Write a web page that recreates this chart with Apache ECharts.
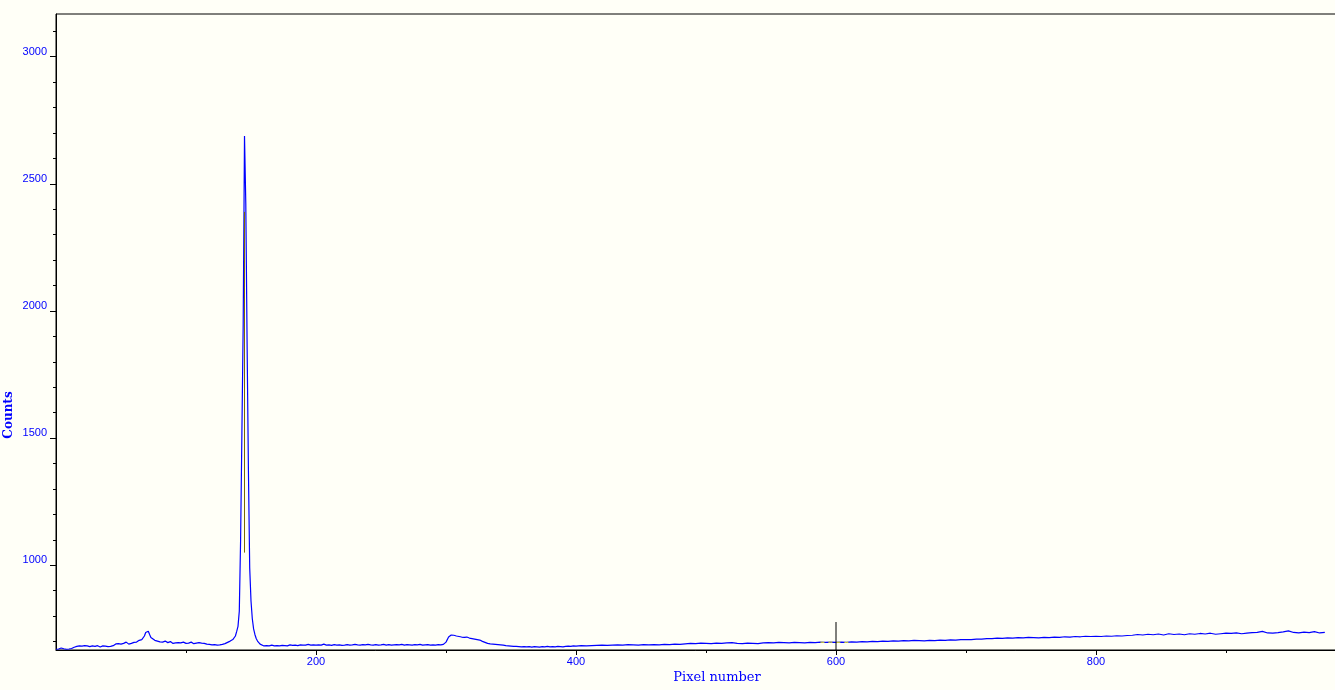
<!DOCTYPE html>
<html>
<head>
<meta charset="utf-8">
<script src="https://cdn.jsdelivr.net/npm/echarts@6/dist/echarts.min.js"></script>
<style>
html,body{margin:0;padding:0;background:#FFFFF7;}
#chart{width:1335px;height:690px;}
</style>
</head>
<body>
<div id="chart"></div>
<script>
// ---- data ----
const pixels = [0,2,4,6,8,10,12,14,16,18,20,22,24,26,28,30,32,34,36,38,40,42,44,46,48,50,52,54,56,58,60,62,64,66,67,68,69,70,71,72,73,74,76,78,80,82,84,86,88,90,92,94,96,98,100,102,104,106,108,110,112,114,116,118,120,122,124,126,128,130,132,134,136,137,138,139,140,141,142,143,144,145,146,147,148,149,150,151,152,153,154,155,156,157,158,160,162,164,166,168,170,172,174,176,178,180,182,184,186,188,190,192,194,196,198,200,202,204,206,208,210,212,214,216,218,220,222,224,226,228,230,232,234,236,238,240,242,244,246,248,250,252,254,256,258,260,262,264,266,268,270,272,274,276,278,280,282,284,286,288,290,292,294,296,298,299,300,301,302,303,304,305,306,307,308,309,310,311,312,313,314,316,318,320,322,324,326,328,330,332,334,336,338,340,342,344,346,348,350,352,354,356,358,360,362,364,366,368,370,372,374,376,378,380,382,384,386,388,390,392,394,396,398,400,404,408,412,416,420,424,428,432,436,440,444,448,452,456,460,464,468,472,476,480,484,488,492,496,500,504,508,512,516,520,524,528,532,536,540,544,548,552,556,560,564,568,572,576,580,584,588,592,596,600,604,608,612,616,620,624,628,632,636,640,644,648,652,656,660,664,668,672,676,680,684,688,692,696,700,704,708,712,716,720,724,728,732,736,740,744,748,752,756,760,764,768,772,776,780,784,788,792,796,800,804,808,812,816,820,824,828,832,836,840,844,848,852,856,860,864,868,872,876,880,884,888,892,896,900,904,908,912,916,920,924,928,932,936,940,944,948,952,956,960,964,968,972,976,980,984];
const counts = [670,671,675,672,670,671,673,678,681,683,682,684,683,680,683,681,684,679,683,682,680,681,684,691,692,690,693,698,690,693,697,698,705,708,714,722,736,742,741,728,716,712,705,702,699,698,702,696,700,693,695,696,695,698,693,694,698,692,694,696,694,693,690,689,687,688,686,687,689,692,697,702,708,713,722,740,760,820,1100,1520,1950,2688,2420,1870,1380,990,860,790,750,728,712,702,695,690,685,683,684,683,686,683,684,683,685,684,683,687,685,686,684,687,686,686,689,686,687,686,687,686,690,686,687,685,688,686,687,685,686,688,686,687,689,687,686,688,687,689,687,686,688,686,687,689,686,688,686,687,688,687,689,686,688,687,686,688,687,689,686,687,688,686,687,686,688,687,689,690,698,704,718,725,726,727,725,724,722,723,720,718,718,719,717,718,714,712,710,708,706,701,697,693,691,690,689,688,687,686,684,683,682,681,681,680,679,680,679,680,678,680,679,678,680,679,681,679,680,679,681,680,679,681,682,681,683,682,684,683,684,685,686,685,686,687,686,688,687,686,688,687,688,687,689,688,690,689,691,693,692,694,693,692,694,693,695,696,693,692,694,693,692,695,696,695,697,696,695,697,696,695,697,696,698,697,698,697,698,697,699,698,700,699,701,700,702,701,703,702,704,703,705,704,703,705,704,706,705,707,706,708,708,708,710,710,712,712,714,713,715,714,716,715,717,716,715,717,716,718,717,719,718,720,719,721,720,721,720,722,721,723,722,724,725,728,726,729,727,730,726,731,728,730,727,731,729,732,730,733,729,731,733,732,734,731,733,735,736,740,734,733,735,738,742,736,734,737,735,739,734,736];
const xTickLabels = [200,400,600,800];
const xMinorTicks = [100,300,500,700,900];
const yTickLabels = [1000,1500,2000,2500,3000];
const yMinorTicks = [700,800,900,1100,1200,1300,1400,1600,1700,1800,1900,2100,2200,2300,2400,2600,2700,2800,2900,3100];
const selStart = 586, selEnd = 614;      // yellow selected range
const markerX = 600, markerTop = 777;    // black cursor line
const peakMarkX = 145, peakMarkTop = 2390, peakMarkBottom = 1050;
const xMin = 0, xMax = 984.6, yMin = 667, yMax = 3168;

const lineData = pixels.map((p, i) => [p, counts[i]]);
const selData = lineData.filter(d => d[0] >= selStart && d[0] <= selEnd);

const blue = '#0000FF';
const plain = v => String(v);
const labelFont = 'Liberation Sans';
const chart = echarts.init(document.getElementById('chart'));
const baseX = {
  type: 'value', min: xMin, max: xMax, position: 'bottom', gridIndex: 0,
  splitLine: {show: false}
};
const baseY = {
  type: 'value', min: yMin, max: yMax, position: 'left', gridIndex: 0,
  splitLine: {show: false}
};
chart.setOption({
  animation: false,
  backgroundColor: '#FFFFF7',
  grid: {left: 56, top: 14, right: -1, bottom: 40, containLabel: false, outerBoundsMode: 'none',
         show: true, borderColor: '#000', borderWidth: 1, backgroundColor: 'transparent'},
  xAxis: [
    Object.assign({}, baseX, {
      axisLine: {show: true, lineStyle: {color: '#000', width: 1}},
      axisTick: {show: true, customValues: xTickLabels, length: 5, lineStyle: {color: '#000'}},
      axisLabel: {show: true, customValues: xTickLabels, formatter: plain, color: blue, fontSize: 11, fontFamily: labelFont, margin: 6}
    }),
    Object.assign({}, baseX, {
      axisLine: {show: false},
      axisTick: {show: true, customValues: xMinorTicks, length: 3, lineStyle: {color: '#000'}},
      axisLabel: {show: false}
    })
  ],
  yAxis: [
    Object.assign({}, baseY, {
      axisLine: {show: true, lineStyle: {color: '#000', width: 1}},
      axisTick: {show: true, customValues: yTickLabels, length: 6, lineStyle: {color: '#000'}},
      axisLabel: {show: true, customValues: yTickLabels, formatter: plain, color: blue, fontSize: 11, fontFamily: labelFont, margin: 9, verticalAlign: 'bottom', lineHeight: 10}
    }),
    Object.assign({}, baseY, {
      axisLine: {show: false},
      axisTick: {show: true, customValues: yMinorTicks, length: 3, lineStyle: {color: '#000'}},
      axisLabel: {show: false}
    })
  ],
  graphic: [
    {
      type: 'text', x: 717, y: 678,
      style: {text: 'Pixel number', fill: blue, font: '13px "DejaVu Serif"', textAlign: 'center', textVerticalAlign: 'middle'}
    },
    {
      type: 'text', x: 9, y: 415, rotation: Math.PI / 2,
      style: {text: 'Counts', fill: blue, font: 'bold 12px "DejaVu Serif"', textAlign: 'center', textVerticalAlign: 'middle'}
    }
  ],
  series: [
    {
      type: 'line', data: lineData, showSymbol: false, symbol: 'none',
      lineStyle: {color: blue, width: 1.2}, z: 2
    },
    {
      type: 'line', data: selData, showSymbol: false, symbol: 'none',
      lineStyle: {color: '#FFFF00', width: 1, type: [4, 4]}, z: 3
    },
    {
      type: 'line', data: [[peakMarkX, peakMarkTop], [peakMarkX, peakMarkBottom]], showSymbol: false, symbol: 'none',
      lineStyle: {color: '#7a6a00', width: 1}, z: 3
    },
    {
      type: 'line', data: [[markerX, markerTop], [markerX, yMin]], showSymbol: false, symbol: 'none',
      lineStyle: {color: '#000', width: 1}, z: 4
    }
  ]
});
</script>
</body>
</html>
